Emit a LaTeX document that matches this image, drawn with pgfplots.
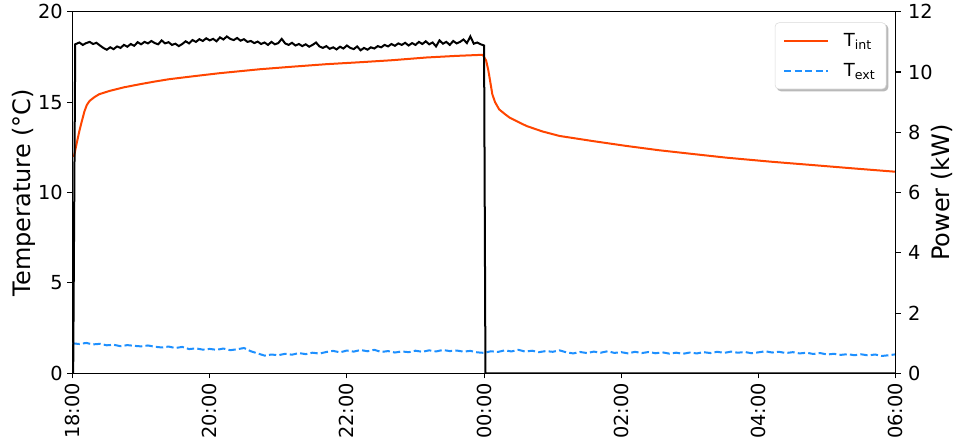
\documentclass[border=0pt]{standalone}
\usepackage{pgfplots}
\pgfplotsset{compat=1.18}
\usepackage{fontspec}
\setmainfont{DejaVu Sans}
\usetikzlibrary{backgrounds}
\definecolor{tintcol}{HTML}{FF4500}
\definecolor{textcol}{HTML}{1E90FF}

\pgfplotsset{
  common/.style={
    width=617pt, height=271pt, scale only axis,
    xmin=0, xmax=12,
    tick align=outside,
    major tick length=3.75pt,
    every tick/.style={black, line width=0.8pt},
    axis line style={line width=0.8pt},
    tick label style={font=\fontsize{14.5}{16}\selectfont},
    label style={font=\fontsize{18}{20}\selectfont},
    /pgf/number format/assume math mode=true,
  }
}

\begin{document}
\begin{tikzpicture}
\begin{axis}[common,
    ymin=0, ymax=20,
    ytick={0,5,10,15,20},
    ytick pos=left,
    xtick pos=bottom,
    xtick={0,2,4,6,8,10,12},
    xticklabels={18:00,20:00,22:00,00:00,02:00,04:00,06:00},
    xticklabel style={rotate=90, anchor=east},
    ylabel={Temperature (°C)},
    ylabel style={yshift=-5pt},
    legend style={at={(1,1)}, xshift=-7pt, yshift=-8pt, anchor=north east,
      name=leg, draw=gray!30, rounded corners=3pt, fill=white,
      font=\fontsize{13.5}{16}\selectfont, row sep=7pt,
      inner xsep=6pt, inner ysep=6pt,
      /tikz/every odd column/.append style={column sep=9pt}},
    legend cell align=left,
    legend image code/.code={\draw[#1] (0pt,0pt) -- (33pt,0pt);},
  ]
\addplot[tintcol, line width=1.5pt] coordinates {
(0.02,11.97) (0.06,12.7) (0.10,13.4) (0.14,14.0) (0.175,14.5) (0.21,14.85)
(0.25,15.07) (0.32,15.28) (0.39,15.44) (0.54,15.62) (0.75,15.82) (0.98,15.99)
(1.2,16.14) (1.41,16.27) (1.8,16.45) (2.14,16.6) (2.73,16.82) (3.2,16.96)
(3.70,17.1) (4.2,17.21) (4.66,17.32) (5.16,17.47) (5.6,17.56) (5.98,17.62)
(6.03,17.3) (6.06,16.8) (6.08,16.36) (6.12,15.44) (6.16,15.0) (6.22,14.6)
(6.3,14.35) (6.37,14.15) (6.5,13.9) (6.62,13.68) (6.85,13.38) (7.10,13.13)
(7.58,12.85) (8.07,12.58) (8.55,12.34) (9.0,12.15) (9.53,11.93) (10.2,11.7)
(10.79,11.52) (11.4,11.33) (12,11.15)
};
\addlegendentry{T\textsubscript{int}}
\addplot[textcol, line width=1.5pt, dash pattern=on 5.5pt off 2.4pt] coordinates {
(0.0,1.66) (0.1,1.62) (0.2,1.68) (0.3,1.60) (0.4,1.63) (0.5,1.55) (0.6,1.58)
(0.7,1.50) (0.8,1.56) (0.9,1.52) (1.0,1.49) (1.1,1.54) (1.2,1.47) (1.3,1.43)
(1.4,1.48) (1.5,1.40) (1.6,1.46) (1.7,1.34) (1.8,1.38) (1.9,1.31) (2.0,1.35)
(2.1,1.30) (2.2,1.37) (2.3,1.28) (2.4,1.33) (2.5,1.40) (2.6,1.22) (2.7,1.10)
(2.8,0.98) (2.9,1.04) (3.0,1.00) (3.1,1.08) (3.2,1.03) (3.3,1.12) (3.4,1.06)
(3.5,1.14) (3.6,1.09) (3.7,1.18) (3.8,1.24) (3.9,1.16) (4.0,1.26) (4.1,1.20)
(4.2,1.29) (4.3,1.22) (4.4,1.30) (4.5,1.18) (4.6,1.23) (4.7,1.15) (4.8,1.21)
(4.9,1.17) (5.0,1.25) (5.1,1.19) (5.2,1.27) (5.3,1.21) (5.4,1.29) (5.5,1.23)
(5.6,1.26) (5.7,1.20) (5.8,1.24) (5.9,1.16) (6.0,1.13) (6.1,1.22) (6.2,1.18)
(6.3,1.27) (6.4,1.21) (6.5,1.30) (6.6,1.20) (6.7,1.25) (6.8,1.17) (6.9,1.23)
(7.0,1.19) (7.1,1.27) (7.2,1.16) (7.3,1.10) (7.4,1.18) (7.5,1.12) (7.6,1.20)
(7.7,1.14) (7.8,1.22) (7.9,1.13) (8.0,1.17) (8.1,1.10) (8.2,1.19) (8.3,1.12)
(8.4,1.18) (8.5,1.11) (8.6,1.16) (8.7,1.09) (8.8,1.14) (8.9,1.08) (9.0,1.15)
(9.1,1.10) (9.2,1.17) (9.3,1.12) (9.4,1.19) (9.5,1.13) (9.6,1.20) (9.7,1.14)
(9.8,1.18) (9.9,1.11) (10.0,1.16) (10.1,1.22) (10.2,1.15) (10.3,1.19)
(10.4,1.12) (10.5,1.17) (10.6,1.10) (10.7,1.14) (10.8,1.07) (10.9,1.12)
(11.0,1.04) (11.1,1.08) (11.2,1.02) (11.3,1.06) (11.4,1.00) (11.5,1.05)
(11.6,0.99) (11.7,1.04) (11.8,0.96) (11.9,1.00) (12.0,1.05)
};
\addlegendentry{T\textsubscript{ext}}
\end{axis}

\begin{scope}[on background layer]
\fill[gray!55, rounded corners=3pt] ([xshift=1.5pt,yshift=-1.5pt]leg.south west)
  rectangle ([xshift=1.5pt,yshift=-1.5pt]leg.north east);
\end{scope}

\begin{axis}[common,
    ymin=0, ymax=12,
    ytick={0,2,4,6,8,10,12},
    axis y line*=right,
    axis x line=none,
    yticklabel style={xshift=2pt},
    ylabel={Power (kW)},
    ylabel style={yshift=8pt},
  ]
\addplot[black, line width=1.5pt] coordinates {
(0.01,0) (0.04,10.92) (0.10,10.98) (0.15,10.90) (0.20,10.96) (0.25,11.00)
(0.30,10.93) (0.35,10.97) (0.40,10.88) (0.45,10.80) (0.50,10.74) (0.55,10.82)
(0.60,10.76) (0.65,10.85) (0.70,10.80) (0.75,10.90) (0.80,10.84) (0.85,10.93)
(0.90,10.87) (0.95,10.99) (1.00,10.92) (1.05,11.00) (1.10,10.95) (1.15,11.03)
(1.20,10.96) (1.25,10.92) (1.30,11.05) (1.35,10.95) (1.40,10.99) (1.45,10.90)
(1.50,10.94) (1.55,10.86) (1.60,10.93) (1.65,11.02) (1.70,10.95) (1.75,11.06)
(1.80,11.00) (1.85,11.09) (1.90,11.03) (1.95,11.12) (2.00,11.05) (2.05,11.10)
(2.10,11.02) (2.15,11.15) (2.20,11.08) (2.25,11.18) (2.30,11.10) (2.35,11.06)
(2.40,11.13) (2.45,11.04) (2.50,11.09) (2.55,11.00) (2.60,11.03) (2.65,10.96)
(2.70,11.01) (2.75,10.93) (2.80,10.98) (2.85,10.90) (2.90,11.00) (2.95,10.92)
(3.00,10.96) (3.05,11.10) (3.10,10.95) (3.15,10.90) (3.20,10.97) (3.25,10.88)
(3.30,10.93) (3.35,10.86) (3.40,10.92) (3.45,10.84) (3.50,10.90) (3.55,10.98)
(3.60,10.85) (3.65,10.80) (3.70,10.86) (3.75,10.77) (3.80,10.82) (3.85,10.75)
(3.90,10.84) (3.95,10.78) (4.00,10.88) (4.05,10.80) (4.10,10.76) (4.15,10.85)
(4.20,10.72) (4.25,10.80) (4.30,10.74) (4.35,10.82) (4.40,10.78) (4.45,10.86)
(4.50,10.82) (4.55,10.90) (4.60,10.85) (4.65,10.93) (4.70,10.87) (4.75,10.95)
(4.80,10.90) (4.85,10.97) (4.90,10.88) (4.95,10.96) (5.00,10.90) (5.05,11.00)
(5.10,10.93) (5.15,11.02) (5.20,10.92) (5.25,10.98) (5.30,10.85) (5.35,11.05)
(5.40,10.94) (5.45,11.00) (5.50,10.90) (5.55,11.03) (5.60,10.95) (5.65,11.00)
(5.70,11.08) (5.75,10.96) (5.80,11.18) (5.85,10.94) (5.90,10.98) (5.95,10.92)
(6.00,10.88) (6.02,0) (12,0)
};
\end{axis}
\path ([xshift=-6pt]current bounding box.west);
\end{tikzpicture}
\end{document}
